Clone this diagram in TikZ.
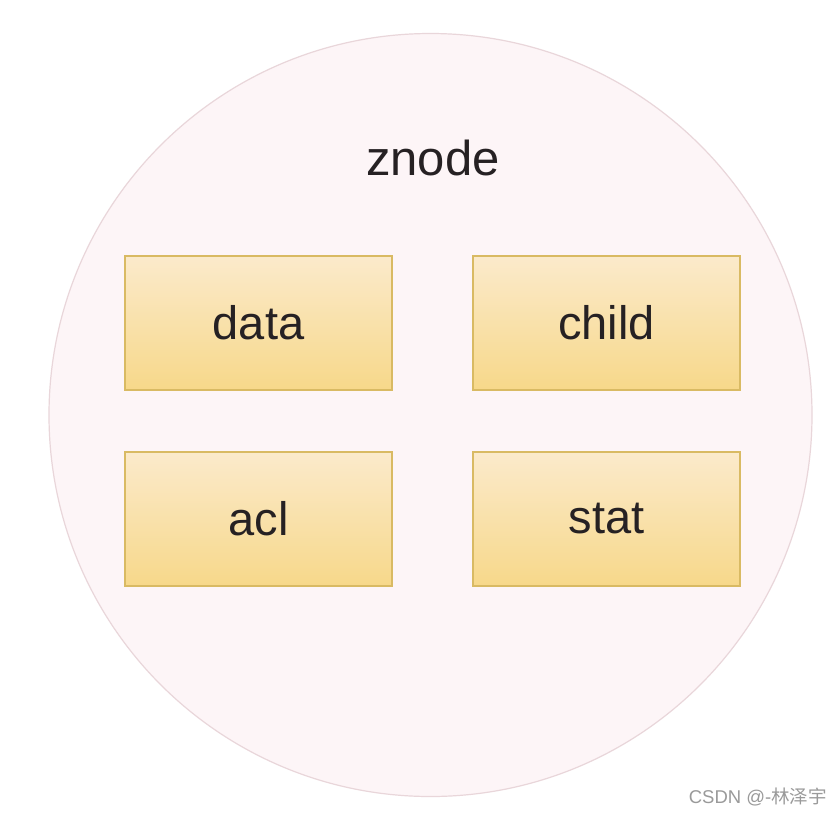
\documentclass[tikz,border=0pt]{standalone}
\usepackage{fontspec}
\setmainfont{Liberation Sans}
\newfontfamily\cjkfont{Noto Sans CJK SC}
\definecolor{ringfill}{HTML}{FDF5F7}
\definecolor{ringline}{HTML}{E9D6DA}
\definecolor{boxtop}{HTML}{FBEACB}
\definecolor{boxbot}{HTML}{F7D88A}
\definecolor{boxline}{HTML}{D9BA63}
\definecolor{labeltext}{HTML}{262123}
\definecolor{marktext}{HTML}{9A9A9A}
\tikzset{
  field/.style={draw=boxline, line width=1.4pt, top color=boxtop, bottom color=boxbot,
    minimum width=267pt, minimum height=134pt, inner sep=0pt,
    font=\fontsize{47}{52}\selectfont, text=labeltext},
  title/.style={font=\fontsize{49}{54}\selectfont, text=labeltext, inner sep=0pt}
}
\begin{document}
\begin{tikzpicture}[x=1pt,y=-1pt]
  \useasboundingbox[fill=white] (0,0) rectangle (840,815);
  % outer znode circle
  \node[circle, draw=ringline, line width=1.2pt, fill=ringfill, minimum size=763pt, inner sep=0pt] (ring) at (430.5,415) {};
  \node[title] (znode) at (433,158) {znode};
  % the four fields
  \node[field] (data)  at (258.5,323) {data};
  \node[field] (child) at (606.5,323) {child};
  \node[field] (acl)   at (258.5,519) {acl};
  \node[field] (stat)  at (606.5,519) {stat};
  \node[anchor=east, inner sep=0pt, text=marktext, font=\fontsize{18.5}{22}\selectfont] (mark) at (827,797) {CSDN @-{\cjkfont 林泽宇}};
\end{tikzpicture}
\end{document}
